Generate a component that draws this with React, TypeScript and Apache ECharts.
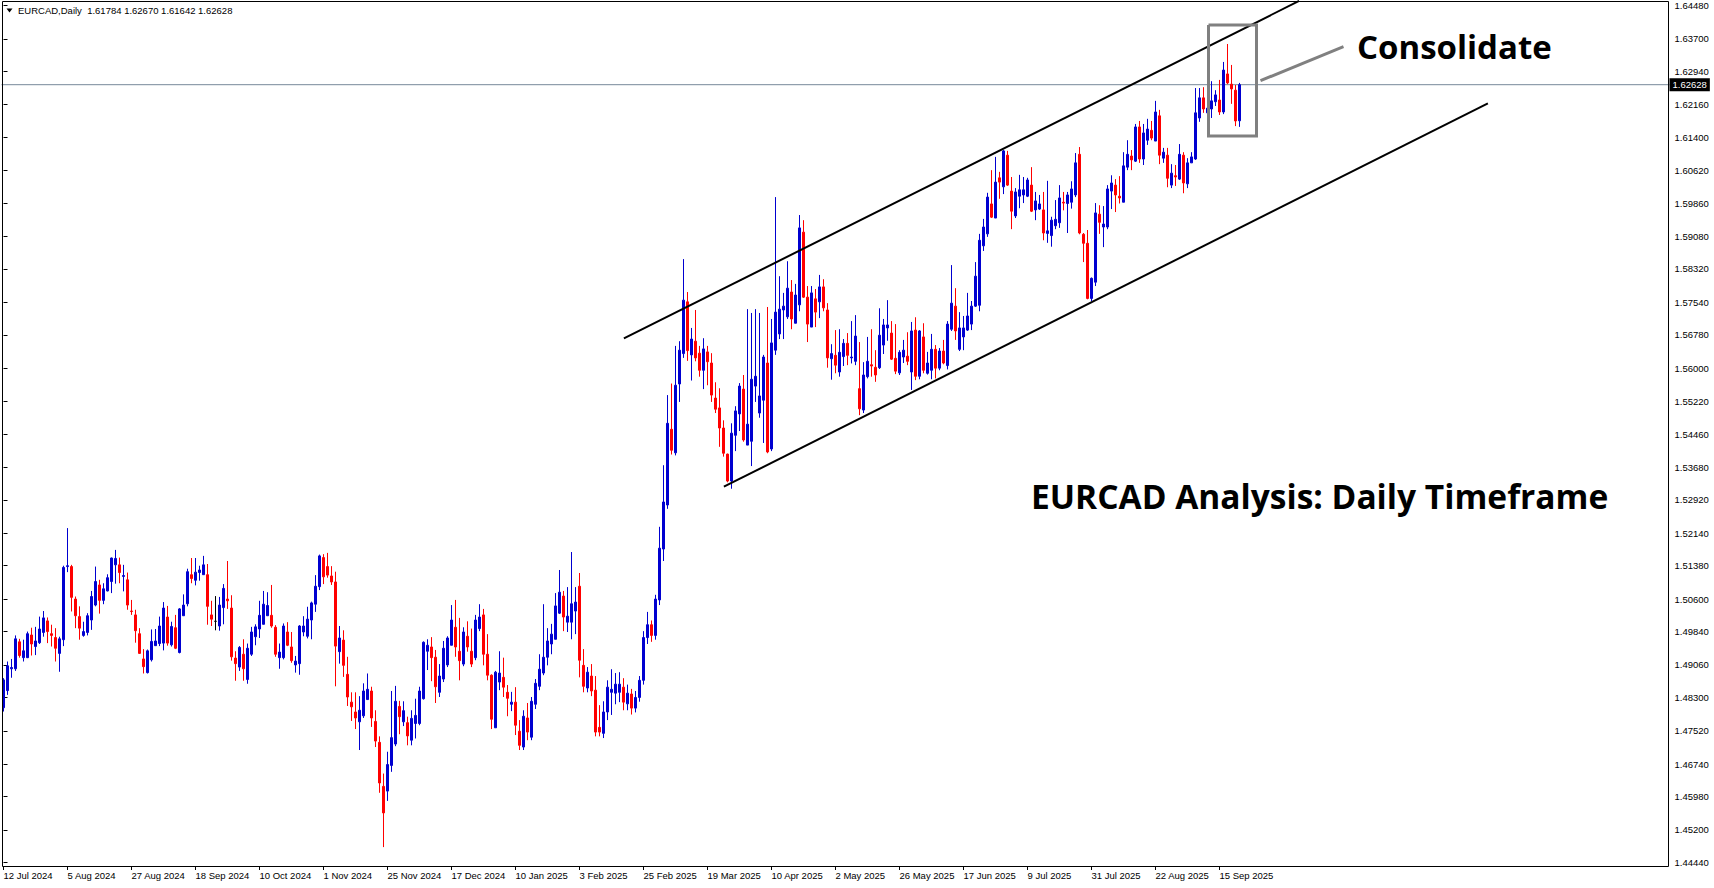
import React, { useEffect, useRef } from 'react';
import * as echarts from 'echarts';

// ---------- data ----------
const symbolTitle = 'EURCAD,Daily';
const headerValues = ['1.61784', '1.62670', '1.61642', '1.62628'];
const lastPrice = 1.62628;

const xTickLabels = [
  '12 Jul 2024', '5 Aug 2024', '27 Aug 2024', '18 Sep 2024', '10 Oct 2024', '1 Nov 2024',
  '25 Nov 2024', '17 Dec 2024', '10 Jan 2025', '3 Feb 2025', '25 Feb 2025', '19 Mar 2025',
  '10 Apr 2025', '2 May 2025', '26 May 2025', '17 Jun 2025', '9 Jul 2025', '31 Jul 2025',
  '22 Aug 2025', '15 Sep 2025',
];
const xTickEvery = 16;

const yTickLabels = [
  '1.44440', '1.45200', '1.45980', '1.46740', '1.47520', '1.48300', '1.49060', '1.49840',
  '1.50600', '1.51380', '1.52140', '1.52920', '1.53680', '1.54460', '1.55220', '1.56000',
  '1.56780', '1.57540', '1.58320', '1.59080', '1.59860', '1.60620', '1.61400', '1.62160',
  '1.62940', '1.63700', '1.64480',
];

const firstDate = '2024-07-12';
const closedDays = ['2024-12-25', '2025-01-01'];
const futureSlots = 107;

const opens = [
  1.4806,1.4846,1.4897,1.4897,1.4960,1.4923,1.4923,1.4976,1.4949,1.4958,
  1.4982,1.5009,1.4979,1.4970,1.4933,1.4965,1.5136,1.5136,1.5060,1.5019,
  1.4975,1.4982,1.5011,1.5046,1.5093,1.5057,1.5079,1.5101,1.5140,1.5140,
  1.5113,1.5105,1.5032,1.5023,1.4979,1.4920,1.4888,1.4918,1.4951,1.4956,
  1.4957,1.5018,1.4953,1.4993,1.4935,1.5021,1.5049,1.5117,1.5104,1.5122,
  1.5117,1.5117,1.5023,1.5008,1.4997,1.5040,1.5060,1.5039,1.4922,1.4901,
  1.4931,1.4872,1.4931,1.4972,1.4990,1.5001,1.5021,1.5022,1.4994,1.4923,
  1.4923,1.4983,1.4948,1.4906,1.4909,1.4983,1.4973,1.5011,1.5048,1.5089,
  1.5157,1.5136,1.5114,1.5100,1.4937,1.4964,1.4884,1.4819,1.4796,1.4773,
  1.4787,1.4825,1.4845,1.4774,1.4725,1.4622,1.4611,1.4671,1.4721,1.4809,
  1.4773,1.4771,1.4730,1.4769,1.4769,1.4827,1.4938,1.4948,1.4924,1.4842,
  1.4873,1.4906,1.4952,1.4994,1.4938,1.4908,1.4973,1.4938,1.4923,1.4991,
  1.5023,1.4931,1.4882,1.4759,1.4866,1.4877,1.4842,1.4814,1.4819,1.4751,
  1.4714,1.4782,1.4737,1.4814,1.4856,1.4887,1.4924,1.4955,1.4966,1.5027,
  1.5067,1.5006,1.5006,1.5032,1.5090,1.4905,1.4852,1.4880,1.4847,1.4760,
  1.4746,1.4796,1.4842,1.4840,1.4842,1.4854,1.4815,1.4838,1.4805,1.4830,
  1.4870,1.4970,1.5000,1.4975,1.5058,1.5177,1.5280,1.5457,1.5402,1.5563,
  1.5634,1.5755,1.5631,1.5663,1.5635,1.5595,1.5638,1.5612,1.5530,1.5507,
  1.5460,1.5399,1.5336,1.5443,1.5493,1.5551,1.5420,1.5429,1.5558,1.5495,
  1.5525,1.5612,1.5411,1.5642,1.5680,1.5736,1.5720,1.5778,1.5705,1.5748,
  1.5918,1.5766,1.5696,1.5762,1.5755,1.5790,1.5736,1.5622,1.5630,1.5591,
  1.5627,1.5658,1.5624,1.5616,1.5552,1.5502,1.5580,1.5608,1.5602,1.5601,
  1.5654,1.5694,1.5682,1.5623,1.5589,1.5626,1.5628,1.5591,1.5689,1.5581,
  1.5673,1.5588,1.5595,1.5644,1.5600,1.5640,1.5606,1.5691,1.5745,1.5644,
  1.5673,1.5689,1.5703,1.5745,1.5747,1.5886,1.5914,1.5984,1.5951,1.6045,
  1.6024,1.6098,1.6014,1.5956,1.6002,1.6005,1.6002,1.6028,1.5970,1.5972,
  1.5970,1.5915,1.5910,1.5933,1.5940,1.5988,1.5985,1.5988,1.6005,1.6100,
  1.5913,1.5892,1.5763,1.5801,1.5960,1.5930,1.5930,1.6014,1.6028,1.6002,
  1.5988,1.6070,1.6096,1.6084,1.6164,1.6089,1.6133,1.6156,1.6131,1.6190,
  1.6091,1.6098,1.6028,1.6050,1.6042,1.6098,1.6031,1.6080,1.6089,1.6185,
  1.6232,1.6197,1.6206,1.6223,1.6227,1.6199,1.6288,1.6264,1.6250,1.61784,
];
const highs = [
  1.4875,1.4914,1.4920,1.4975,1.4967,1.4965,1.4984,1.4993,1.4995,1.5019,
  1.5032,1.5017,1.5000,1.4992,1.4972,1.5138,1.5226,1.5140,1.5066,1.5043,
  1.5007,1.5027,1.5079,1.5136,1.5105,1.5097,1.5118,1.5157,1.5175,1.5157,
  1.5140,1.5122,1.5058,1.5035,1.4992,1.4943,1.4942,1.4989,1.4990,1.5019,
  1.5053,1.5044,1.5007,1.5023,1.5039,1.5071,1.5131,1.5156,1.5156,1.5138,
  1.5161,1.5142,1.5056,1.5067,1.5065,1.5095,1.5149,1.5069,1.4938,1.4950,
  1.4966,1.4956,1.4995,1.5001,1.5056,1.5079,1.5076,1.5093,1.4999,1.4956,
  1.5003,1.5006,1.4983,1.4927,1.4999,1.5020,1.5042,1.5054,1.5116,1.5164,
  1.5165,1.5168,1.5137,1.5124,1.4997,1.4987,1.4925,1.4842,1.4842,1.4833,
  1.4863,1.4886,1.4855,1.4800,1.4739,1.4652,1.4703,1.4845,1.4857,1.4822,
  1.4821,1.4785,1.4800,1.4827,1.4855,1.4961,1.4966,1.4971,1.4941,1.4908,
  1.4962,1.4973,1.5046,1.5058,1.5016,1.4994,1.5008,1.4991,1.5023,1.5048,
  1.5037,1.4978,1.4884,1.4892,1.4938,1.4923,1.4859,1.4843,1.4854,1.4777,
  1.4800,1.4817,1.4831,1.4873,1.4931,1.5048,1.4992,1.5002,1.5074,1.5128,
  1.5079,1.5088,1.5170,1.5088,1.5121,1.4943,1.4901,1.4908,1.4880,1.4812,
  1.4821,1.4870,1.4896,1.4887,1.4889,1.4875,1.4860,1.4850,1.4845,1.4880,
  1.4985,1.5030,1.5010,1.5070,1.5229,1.5373,1.5537,1.5564,1.5652,1.5663,
  1.5855,1.5778,1.5694,1.5736,1.5652,1.5670,1.5652,1.5635,1.5567,1.5553,
  1.5478,1.5400,1.5471,1.5511,1.5565,1.5584,1.5738,1.5729,1.5738,1.5729,
  1.5631,1.5743,1.5715,1.6000,1.5815,1.5776,1.5850,1.5806,1.5797,1.5958,
  1.5946,1.5792,1.5792,1.5785,1.5818,1.5808,1.5752,1.5656,1.5689,1.5691,
  1.5668,1.5682,1.5710,1.5724,1.5661,1.5614,1.5673,1.5691,1.5642,1.5740,
  1.5715,1.5759,1.5710,1.5703,1.5642,1.5666,1.5684,1.5708,1.5719,1.5689,
  1.5705,1.5638,1.5680,1.5654,1.5647,1.5666,1.5710,1.5841,1.5787,1.5731,
  1.5722,1.5776,1.5757,1.5848,1.5914,1.5949,1.6010,1.6063,1.6094,1.6059,
  1.6110,1.6108,1.6047,1.6021,1.6052,1.6047,1.6045,1.6070,1.6012,1.6005,
  1.6012,1.6038,1.5954,1.5993,1.6028,1.6012,1.6012,1.6037,1.6103,1.6117,
  1.5916,1.5923,1.5812,1.5986,1.5981,1.5979,1.6028,1.6051,1.6042,1.6049,
  1.6105,1.6133,1.6110,1.6171,1.6178,1.6171,1.6183,1.6178,1.6225,1.6204,
  1.6115,1.6115,1.6077,1.6075,1.6124,1.6105,1.6091,1.6105,1.6255,1.6255,
  1.6257,1.6248,1.6271,1.6250,1.6274,1.6316,1.6358,1.6309,1.6262,1.62670,
];
const lows = [
  1.4797,1.4836,1.4876,1.4892,1.4923,1.4914,1.4922,1.4928,1.4929,1.4955,
  1.4972,1.4957,1.4949,1.4914,1.4890,1.4950,1.5123,1.5031,1.4992,1.4965,
  1.4972,1.4975,1.4988,1.5043,1.5026,1.5048,1.5078,1.5074,1.5096,1.5097,
  1.5078,1.5035,1.5023,1.4958,1.4932,1.4886,1.4886,1.4914,1.4951,1.4950,
  1.4940,1.4951,1.4949,1.4943,1.4933,1.5021,1.5043,1.5097,1.5092,1.5103,
  1.5117,1.5000,1.4997,1.4987,1.4986,1.5001,1.5037,1.4916,1.4869,1.4892,
  1.4869,1.4862,1.4927,1.4952,1.4969,1.5001,1.5021,1.4993,1.4925,1.4897,
  1.4919,1.4950,1.4911,1.4888,1.4883,1.4973,1.4968,1.4966,1.5030,1.5081,
  1.5095,1.5110,1.5093,1.4856,1.4909,1.4878,1.4810,1.4775,1.4756,1.4707,
  1.4782,1.4825,1.4761,1.4714,1.4607,1.4480,1.4588,1.4656,1.4716,1.4744,
  1.4763,1.4718,1.4718,1.4734,1.4765,1.4825,1.4894,1.4868,1.4817,1.4831,
  1.4866,1.4901,1.4952,1.4925,1.4870,1.4903,1.4937,1.4901,1.4917,1.4985,
  1.4905,1.4870,1.4756,1.4759,1.4847,1.4831,1.4786,1.4798,1.4742,1.4707,
  1.4707,1.4730,1.4730,1.4803,1.4847,1.4882,1.4905,1.4931,1.4966,1.5025,
  1.4985,1.4983,1.4966,1.4978,1.4877,1.4842,1.4842,1.4833,1.4739,1.4739,
  1.4735,1.4777,1.4789,1.4814,1.4819,1.4800,1.4800,1.4790,1.4795,1.4820,
  1.4860,1.4955,1.4960,1.4965,1.5046,1.5149,1.5271,1.5398,1.5396,1.5521,
  1.5624,1.5617,1.5571,1.5616,1.5580,1.5551,1.5560,1.5521,1.5495,1.5416,
  1.5393,1.5333,1.5318,1.5406,1.5453,1.5428,1.5420,1.5371,1.5521,1.5484,
  1.5425,1.5401,1.5406,1.5631,1.5668,1.5668,1.5715,1.5691,1.5705,1.5733,
  1.5764,1.5661,1.5696,1.5696,1.5717,1.5733,1.5601,1.5573,1.5588,1.5580,
  1.5605,1.5607,1.5611,1.5607,1.5490,1.5495,1.5576,1.5580,1.5568,1.5598,
  1.5633,1.5664,1.5619,1.5586,1.5584,1.5612,1.5607,1.5549,1.5572,1.5574,
  1.5588,1.5585,1.5574,1.5576,1.5595,1.5609,1.5597,1.5687,1.5666,1.5640,
  1.5642,1.5687,1.5689,1.5743,1.5733,1.5874,1.5907,1.5951,1.5951,1.5996,
  1.6007,1.6026,1.5925,1.5951,1.5974,1.5986,1.6000,1.5965,1.5946,1.5970,
  1.5899,1.5893,1.5884,1.5925,1.5928,1.5969,1.5916,1.5973,1.6000,1.5913,
  1.5848,1.5761,1.5757,1.5792,1.5914,1.5883,1.5925,1.5972,1.5965,1.5985,
  1.5988,1.6063,1.6063,1.6082,1.6080,1.6075,1.6122,1.6133,1.6131,1.6077,
  1.6080,1.6023,1.6021,1.6026,1.6040,1.6009,1.6021,1.6080,1.6087,1.6176,
  1.6197,1.6192,1.6185,1.6213,1.6192,1.6194,1.6264,1.6218,1.6166,1.61642,
];
const closes = [
  1.4871,1.4904,1.4900,1.4967,1.4928,1.4939,1.4979,1.4955,1.4962,1.4990,
  1.5016,1.4984,1.4975,1.4945,1.4967,1.5134,1.5138,1.5064,1.5021,1.4992,
  1.4984,1.5021,1.5066,1.5101,1.5057,1.5084,1.5110,1.5156,1.5155,1.5122,
  1.5115,1.5046,1.5031,1.4986,1.4933,1.4902,1.4939,1.4961,1.4962,1.4997,
  1.5039,1.4957,1.4996,1.4945,1.5037,1.5046,1.5124,1.5108,1.5123,1.5128,
  1.5140,1.5043,1.5013,1.5008,1.5046,1.5085,1.5056,1.4925,1.4909,1.4947,
  1.4897,1.4945,1.4983,1.4995,1.5022,1.5048,1.5045,1.4997,1.4931,1.4936,
  1.4997,1.4952,1.4916,1.4915,1.4997,1.4997,1.5013,1.5051,1.5090,1.5161,
  1.5112,1.5116,1.5100,1.4950,1.4969,1.4905,1.4831,1.4808,1.4782,1.4800,
  1.4845,1.4849,1.4782,1.4728,1.4630,1.4560,1.4673,1.4736,1.4821,1.4785,
  1.4799,1.4740,1.4781,1.4788,1.4845,1.4959,1.4952,1.4923,1.4855,1.4880,
  1.4945,1.4969,1.5011,1.4948,1.4916,1.4983,1.4948,1.4908,1.5011,1.5018,
  1.4931,1.4882,1.4779,1.4889,1.4887,1.4854,1.4828,1.4819,1.4765,1.4718,
  1.4786,1.4749,1.4821,1.4863,1.4896,1.4924,1.4962,1.4978,1.5044,1.5076,
  1.5018,1.5020,1.5049,1.5053,1.4917,1.4856,1.4889,1.4845,1.4749,1.4749,
  1.4796,1.4854,1.4849,1.4861,1.4861,1.4819,1.4840,1.4805,1.4830,1.4870,
  1.4970,1.5000,1.4975,1.5060,1.5179,1.5287,1.5471,1.5408,1.5560,1.5642,
  1.5759,1.5641,1.5668,1.5624,1.5595,1.5645,1.5615,1.5537,1.5504,1.5460,
  1.5401,1.5336,1.5448,1.5500,1.5558,1.5432,1.5469,1.5574,1.5581,1.5535,
  1.5626,1.5404,1.5659,1.5731,1.5738,1.5745,1.5787,1.5715,1.5771,1.5928,
  1.5766,1.5703,1.5776,1.5731,1.5790,1.5741,1.5624,1.5634,1.5607,1.5637,
  1.5658,1.5630,1.5626,1.5675,1.5505,1.5584,1.5616,1.5605,1.5584,1.5677,
  1.5701,1.5701,1.5621,1.5593,1.5637,1.5642,1.5616,1.5687,1.5581,1.5687,
  1.5595,1.5612,1.5644,1.5600,1.5640,1.5612,1.5703,1.5752,1.5687,1.5694,
  1.5694,1.5722,1.5745,1.5815,1.5899,1.5930,1.6000,1.5953,1.6035,1.6035,
  1.6108,1.6028,1.5967,1.6012,1.6017,1.6017,1.6040,1.5967,1.5991,1.5984,
  1.5916,1.5921,1.5946,1.5948,1.5998,1.5986,1.6005,1.6019,1.6080,1.5916,
  1.5892,1.5763,1.5810,1.5963,1.5941,1.5937,1.6019,1.6033,1.6005,1.5998,
  1.6073,1.6100,1.6087,1.6164,1.6089,1.6150,1.6159,1.6138,1.6199,1.6098,
  1.6105,1.6044,1.6056,1.6047,1.6100,1.6033,1.6080,1.6094,1.6197,1.6232,
  1.6206,1.6208,1.6225,1.6239,1.6199,1.6297,1.6267,1.6253,1.6178,1.62628,
];

// trend-channel lines: [bar index, price]
const upperChannel = [[155.1, 1.56697], [323.9, 1.64586]];
const lowerChannel = [[180.1, 1.53227], [371.1, 1.62193]];
// consolidation box and pointer: [bar index, price]
const consolidationBox = [[301.25, 1.64024], [313.25, 1.64024], [313.25, 1.61428], [301.25, 1.61428], [301.25, 1.64024]];
const pointerLine = [[314.25, 1.62722], [335.0, 1.63517]];

const annotationMain = 'Consolidate';
const annotationTitle = 'EURCAD Analysis: Daily Timeframe';

// ---------- helpers ----------
function buildDates(start: string, count: number, skip: string[]): string[] {
  const out: string[] = [];
  const d = new Date(start + 'T00:00:00Z');
  while (out.length < count) {
    const dow = d.getUTCDay();
    const iso = d.toISOString().slice(0, 10);
    if (dow !== 0 && dow !== 6 && !skip.includes(iso)) out.push(iso);
    d.setUTCDate(d.getUTCDate() + 1);
  }
  return out;
}

const W = 1714;
const H = 888;
const GRID_LEFT = 1.5;
const GRID_TOP = 1;
const GRID_H = 865;
const LABEL_FONT = 'Liberation Sans, Arial, sans-serif';
const BULL = '#0000d0';
const BEAR = '#ff0000';

export default function App() {
  const ref = useRef<HTMLDivElement>(null);

  useEffect(() => {
    if (!ref.current) return;
    const chart = echarts.init(ref.current, undefined, { renderer: 'svg' });

    const n = opens.length;
    const dates = buildDates(firstDate, n, closedDays);
    const categories = dates.concat(Array.from({ length: futureSlots }, (_, k) => 'f' + k));
    const total = categories.length;
    const gridW = total * 4;

    // price scale: 1.64480 sits 4.5px below the grid top, 1.44440 sits 3.5px above its bottom
    const topLabel = Number(yTickLabels[yTickLabels.length - 1]);
    const botLabel = Number(yTickLabels[0]);
    const pxPerUnit = (GRID_H - 8) / (topLabel - botLabel);
    const yMax = topLabel + 4.5 / pxPerUnit;
    const yMin = botLabel - 3.5 / pxPerUnit;
    const yTickValues = yTickLabels.map(Number);

    const candleData = opens.map((o, i) => [o, closes[i], lows[i], highs[i]]);
    const showX = (idx: number) => idx < n && idx % xTickEvery === 0;
    const line = (data: number[][], color: string, width: number) => ({
      type: 'line',
      xAxisIndex: 1,
      yAxisIndex: 0,
      data,
      symbol: 'none',
      silent: true,
      clip: false,
      lineStyle: { color, width, join: 'miter' },
      z: 5,
    });

    const option: any = {
      animation: false,
      backgroundColor: '#ffffff',
      grid: { left: GRID_LEFT, top: GRID_TOP, width: gridW, height: GRID_H, containLabel: false },
      xAxis: [
        {
          type: 'category',
          data: categories,
          boundaryGap: true,
          axisLine: { show: false },
          axisTick: {
            show: true,
            alignWithLabel: true,
            interval: (idx: number) => showX(idx),
            length: 4,
            lineStyle: { color: '#000', width: 1 },
          },
          axisLabel: {
            show: true,
            interval: (idx: number) => showX(idx),
            formatter: (_v: string, idx: number) => xTickLabels[idx / xTickEvery] ?? '',
            align: 'left',
            margin: 4,
            color: '#000',
            fontSize: 9.5,
            fontFamily: LABEL_FONT,
          },
          splitLine: { show: false },
        },
        {
          type: 'value',
          show: false,
          min: -0.5,
          max: total - 0.5,
          gridIndex: 0,
        },
      ],
      yAxis: {
        type: 'value',
        position: 'right',
        min: yMin,
        max: yMax,
        axisLine: { show: false },
        splitLine: { show: false },
        axisTick: { show: true, length: 4, lineStyle: { color: '#000' }, customValues: yTickValues },
        axisLabel: {
          customValues: yTickValues,
          formatter: (v: number) => v.toFixed(5),
          color: '#000',
          fontSize: 9.5,
          fontFamily: LABEL_FONT,
          margin: 5,
        },
      },
      series: [
        {
          type: 'line',
          xAxisIndex: 1,
          yAxisIndex: 0,
          data: [[-0.5, lastPrice], [total - 0.5, lastPrice]],
          symbol: 'none',
          silent: true,
          clip: false,
          lineStyle: { color: '#778899', width: 1 },
          z: 1,
          endLabel: {
            show: true,
            distance: 0,
            formatter: () => lastPrice.toFixed(5),
            color: '#ffffff',
            backgroundColor: '#000000',
            padding: [2, 3, 1, 3],
            fontSize: 9.5,
            fontFamily: LABEL_FONT,
          },
        },
        {
          type: 'candlestick',
          xAxisIndex: 0,
          yAxisIndex: 0,
          data: candleData,
          barWidth: 2,
          z: 3,
          itemStyle: {
            color: BULL,
            color0: BEAR,
            borderColor: BULL,
            borderColor0: BEAR,
            borderColorDoji: '#000000',
            borderWidth: 1,
          },
        },
        line(upperChannel, '#000', 2),
        line(lowerChannel, '#000', 2),
        line(consolidationBox, '#808080', 3),
        line(pointerLine, '#808080', 3),
      ],
      graphic: [
        {
          type: 'rect',
          silent: true,
          z: 50,
          shape: { x: 2.5, y: 1.5, width: 1666, height: 865 },
          style: { fill: 'none', stroke: '#000', lineWidth: 1 },
        },
        {
          type: 'polygon',
          silent: true,
          z: 50,
          shape: { points: [[6.5, 8.5], [12.5, 8.5], [9.5, 12.5]] },
          style: { fill: '#000' },
        },
        {
          type: 'text',
          silent: true,
          z: 50,
          x: 18,
          y: 10.5,
          style: {
            text: symbolTitle + '  ' + headerValues.join(' '),
            fill: '#000',
            fontSize: 9.5,
            fontFamily: LABEL_FONT,
            verticalAlign: 'middle',
            align: 'left',
          },
        },
        {
          type: 'text',
          silent: true,
          z: 50,
          x: 1357,
          y: 46,
          style: {
            text: annotationMain,
            fill: '#000',
            fontSize: 33,
            fontWeight: 'bold',
            fontFamily: 'Open Sans, sans-serif',
            verticalAlign: 'middle',
            align: 'left',
          },
        },
        {
          type: 'text',
          silent: true,
          z: 50,
          x: 1031,
          y: 496,
          style: {
            text: annotationTitle,
            fill: '#000',
            fontSize: 33.5,
            fontWeight: 'bold',
            fontFamily: 'Open Sans, sans-serif',
            verticalAlign: 'middle',
            align: 'left',
          },
        },
      ],
    };

    chart.setOption(option);
    return () => chart.dispose();
  }, []);

  return (
    <div
      ref={ref}
      style={{ position: 'absolute', left: 0, top: 0, width: W, height: H, background: '#fff' }}
    />
  );
}
